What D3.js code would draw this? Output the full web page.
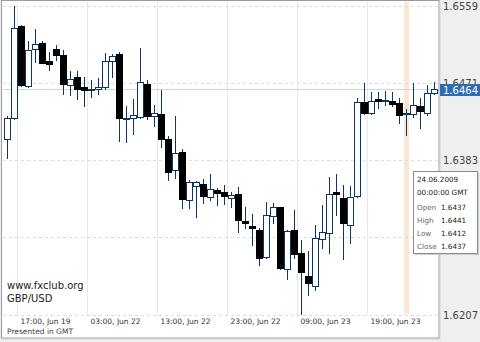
<!DOCTYPE html>
<meta charset="utf-8">
<script src="https://d3js.org/d3.v7.min.js"></script>
<style>
  body { margin: 0; background: #efefef; }
  text { font-family: "DejaVu Sans", sans-serif; }
</style>
<div id="chart"></div>
<script>

// hourly GBP/USD bars, 19.06.2009 15:00 .. 24.06.2009 04:00 (GMT, weekend skipped)
const times = [
  "19.06 15:00","19.06 16:00","19.06 17:00","19.06 18:00","19.06 19:00","19.06 20:00","19.06 21:00",
  "21.06 22:00","21.06 23:00",
  "22.06 00:00","22.06 01:00","22.06 02:00","22.06 03:00","22.06 04:00","22.06 05:00","22.06 06:00",
  "22.06 07:00","22.06 08:00","22.06 09:00","22.06 10:00","22.06 11:00","22.06 12:00","22.06 13:00",
  "22.06 14:00","22.06 15:00","22.06 16:00","22.06 17:00","22.06 18:00","22.06 19:00","22.06 20:00",
  "22.06 21:00","22.06 22:00","22.06 23:00",
  "23.06 00:00","23.06 01:00","23.06 02:00","23.06 03:00","23.06 04:00","23.06 05:00","23.06 06:00",
  "23.06 07:00","23.06 08:00","23.06 09:00","23.06 10:00","23.06 11:00","23.06 12:00","23.06 13:00",
  "23.06 14:00","23.06 15:00","23.06 16:00","23.06 17:00","23.06 18:00","23.06 19:00","23.06 20:00",
  "23.06 21:00","23.06 22:00","23.06 23:00",
  "24.06 00:00","24.06 01:00","24.06 02:00","24.06 03:00","24.06 04:00"
];
const open  = [1.6407,1.6431,1.6536,1.6467,1.6510,1.6516,1.6496,1.6509,1.6503,1.6468,1.6477,1.6466,1.6463,1.6464,1.6466,1.6496,1.6504,1.6430,1.6431,1.6432,1.6470,1.6433,1.6435,1.6407,1.6372,1.6392,1.6338,1.6353,1.6356,1.6341,1.6349,1.6347,1.6340,1.6344,1.6313,1.6308,1.6303,1.6272,1.6319,1.6329,1.6259,1.6303,1.6277,1.6251,1.6240,1.6293,1.6300,1.6346,1.6340,1.6309,1.6342,1.6449,1.6436,1.6452,1.6451,1.6450,1.6448,1.6437,1.6435,1.6445,1.6437,1.6459];
const high  = [1.6433,1.6558,1.6537,1.6518,1.6532,1.6518,1.6506,1.6514,1.6508,1.6484,1.6484,1.6477,1.6474,1.6476,1.6505,1.6504,1.6506,1.6445,1.6452,1.6511,1.6474,1.6446,1.6463,1.6410,1.6433,1.6395,1.6360,1.6359,1.6361,1.6367,1.6351,1.6355,1.6346,1.6352,1.6330,1.6322,1.6305,1.6335,1.6334,1.6330,1.6303,1.6326,1.6292,1.6279,1.6309,1.6332,1.6364,1.6367,1.6355,1.6353,1.6454,1.6471,1.6461,1.6461,1.6462,1.6460,1.6454,1.6441,1.6471,1.6454,1.6468,1.6472];
const low   = [1.6385,1.6430,1.6467,1.6466,1.6495,1.6493,1.6486,1.6497,1.6458,1.6457,1.6453,1.6444,1.6455,1.6458,1.6464,1.6478,1.6405,1.6403,1.6413,1.6431,1.6430,1.6422,1.6398,1.6360,1.6362,1.6328,1.6328,1.6318,1.6334,1.6338,1.6332,1.6333,1.6329,1.6301,1.6306,1.6286,1.6263,1.6271,1.6311,1.6259,1.6247,1.6271,1.6208,1.6229,1.6235,1.6283,1.6277,1.6320,1.6270,1.6288,1.6341,1.6435,1.6435,1.6442,1.6446,1.6444,1.6425,1.6412,1.6432,1.6420,1.6434,1.6458];
const close = [1.6431,1.6533,1.6468,1.6508,1.6515,1.6494,1.6492,1.6503,1.6470,1.6475,1.6464,1.6463,1.6464,1.6466,1.6496,1.6502,1.6431,1.6431,1.6434,1.6472,1.6433,1.6436,1.6407,1.6369,1.6391,1.6339,1.6358,1.6358,1.6342,1.6350,1.6345,1.6342,1.6343,1.6315,1.6311,1.6305,1.6271,1.6320,1.6329,1.6260,1.6302,1.6276,1.6255,1.6243,1.6294,1.6301,1.6344,1.6344,1.6311,1.6341,1.6449,1.6436,1.6450,1.6450,1.6451,1.6447,1.6434,1.6437,1.6446,1.6439,1.6459,1.6464];

// x axis labels (bar time -> label)
const tickTimes  = ["19.06 17:00","22.06 03:00","22.06 13:00","22.06 23:00","23.06 09:00","23.06 19:00"];
const tickLabels = ["17:00, Jun 19","03:00, Jun 22","13:00, Jun 22","23:00, Jun 22","09:00, Jun 23","19:00, Jun 23"];

// price grid
const priceGrid   = [1.6559, 1.6471, 1.6383, 1.6295, 1.6207];
const priceLabels = [1.6559, 1.6471, 1.6383, 1.6207];
const lastPrice = 1.6464;

// hovered bar shown in the data window
const hoverTime = "24.06 00:00";
const hoverDate = "24.06.2009";
const hoverClock = "00:00:00 GMT";

const width = 480, height = 342;
const plotW = 439, plotH = 338;

const svg = d3.select("#chart").append("svg")
  .attr("width", width)
  .attr("height", height);

const bars = times.map((t, i) => ({t: t, o: open[i], h: high[i], l: low[i], c: close[i]}));

const x = d3.scaleLinear()
  .domain([0, bars.length - 1])
  .range([7.3, 7.3 + 7 * (bars.length - 1)]);

const y = d3.scaleLinear()
  .domain([1.6207, 1.6559])
  .range([314.5, 5.5]);

const cx = i => Math.round(x(i));
const py = v => Math.round(y(v));

// plot background
svg.append("rect")
  .attr("x", 1.5).attr("y", 0.5)
  .attr("width", plotW - 1.5).attr("height", plotH - 0.5)
  .attr("fill", "#fff")
  .attr("stroke", "#9a9a9a");
svg.append("line")
  .attr("x1", plotW + 1).attr("x2", plotW + 1)
  .attr("y1", 2).attr("y2", plotH + 1)
  .attr("stroke", "#d2d2d2");
svg.append("line")
  .attr("x1", 3).attr("x2", plotW + 1)
  .attr("y1", plotH + 1).attr("y2", plotH + 1)
  .attr("stroke", "#d2d2d2");

// highlighted bar
const hi = times.indexOf(hoverTime);
svg.append("rect")
  .attr("x", cx(hi) - 2)
  .attr("y", 2)
  .attr("width", 5)
  .attr("height", 312)
  .attr("fill", "#fde6d4");

// vertical grid
const tickIdx = tickTimes.map(t => times.indexOf(t));
svg.append("g")
  .selectAll("line")
  .data(tickIdx)
  .join("line")
    .attr("x1", d => cx(d) - 3.5)
    .attr("x2", d => cx(d) - 3.5)
    .attr("y1", 2)
    .attr("y2", 316)
    .attr("stroke", "#e6e8ec");

// horizontal grid (dashed)
svg.append("g")
  .selectAll("line")
  .data(priceGrid)
  .join("line")
    .attr("x1", 3)
    .attr("x2", plotW - 1)
    .attr("y1", d => py(d) + 0.5)
    .attr("y2", d => py(d) + 0.5)
    .attr("stroke", "#dcdcdc")
    .attr("stroke-dasharray", "3,3");

// last price line
svg.append("line")
  .attr("x1", 3).attr("x2", plotW - 1)
  .attr("y1", py(lastPrice) + 0.5).attr("y2", py(lastPrice) + 0.5)
  .attr("stroke", "#c9d8e8");

// candles
const wickColor = "#0d3566";
const g = svg.append("g");
g.selectAll("line.wick")
  .data(bars)
  .join("line")
    .attr("class", "wick")
    .attr("x1", (d, i) => cx(i) + 0.5)
    .attr("x2", (d, i) => cx(i) + 0.5)
    .attr("y1", d => py(d.h))
    .attr("y2", d => py(d.l) + 1)
    .attr("stroke", wickColor);

g.selectAll("rect.body")
  .data(bars)
  .join("rect")
    .attr("class", "body")
    .attr("x", (d, i) => cx(i) - 2.5)
    .attr("y", d => py(Math.max(d.o, d.c)) + 0.5)
    .attr("width", 6)
    .attr("height", d => Math.max(1, py(Math.min(d.o, d.c)) - py(Math.max(d.o, d.c))))
    .attr("fill", d => d.c >= d.o ? "#fff" : "#000")
    .attr("stroke", d => d.c >= d.o ? wickColor : "#000");

// price labels on the right
svg.append("g")
  .selectAll("text")
  .data(priceLabels)
  .join("text")
    .attr("x", 443)
    .attr("y", d => py(d) + 4)
    .attr("font-size", 10)
    .attr("fill", "#444")
    .text(d => d.toFixed(4));

// last price marker
svg.append("rect")
  .attr("x", 440).attr("y", py(lastPrice) - 5)
  .attr("width", 40).attr("height", 12)
  .attr("fill", "#2f6db3");
svg.append("text")
  .attr("x", 443)
  .attr("y", py(lastPrice) + 4.5)
  .attr("font-size", 10)
  .attr("fill", "#fff")
  .text(lastPrice.toFixed(4));

// time labels
svg.append("g")
  .selectAll("text")
  .data(tickIdx)
  .join("text")
    .attr("x", d => cx(d) - 0.5)
    .attr("y", 324)
    .attr("font-size", 7.5)
    .attr("fill", "#333")
    .text((d, i) => tickLabels[i]);

// watermark / symbol
svg.append("text")
  .attr("x", 7).attr("y", 288.5)
  .attr("font-size", 10)
  .attr("fill", "#222")
  .text("www.fxclub.org");
svg.append("text")
  .attr("x", 7).attr("y", 302)
  .attr("font-size", 10)
  .attr("fill", "#222")
  .text("GBP/USD");
svg.append("text")
  .attr("x", 7).attr("y", 334)
  .attr("font-size", 7.5)
  .attr("fill", "#444")
  .text("Presented in GMT");

// data window for the hovered bar
const hb = bars[hi];
const tip = svg.append("g").attr("transform", "translate(413.5,171.5)");
tip.append("rect")
  .attr("x", 1.5).attr("y", 1.5)
  .attr("width", 64).attr("height", 82)
  .attr("fill", "#cfcfcf");
tip.append("rect")
  .attr("width", 64).attr("height", 82)
  .attr("fill", "#fff")
  .attr("stroke", "#8c8c8c");
tip.append("text").attr("x", 3.5).attr("y", 10.5)
  .attr("font-size", 7.2).attr("fill", "#222").text(hoverDate);
tip.append("text").attr("x", 3.5).attr("y", 23)
  .attr("font-size", 7.2).attr("fill", "#222").text(hoverClock);
const rows = [["Open", hb.o], ["High", hb.h], ["Low", hb.l], ["Close", hb.c]];
tip.selectAll("g.row")
  .data(rows)
  .join("g")
    .attr("class", "row")
    .attr("transform", (d, i) => `translate(0, ${38 + i * 13.1})`)
    .each(function(d) {
      const r = d3.select(this);
      r.append("text").attr("x", 3.5).attr("font-size", 7.2).attr("fill", "#666").text(d[0]);
      r.append("text").attr("x", 27.5).attr("font-size", 7.2).attr("fill", "#222").text(d[1].toFixed(4));
    });

</script>
